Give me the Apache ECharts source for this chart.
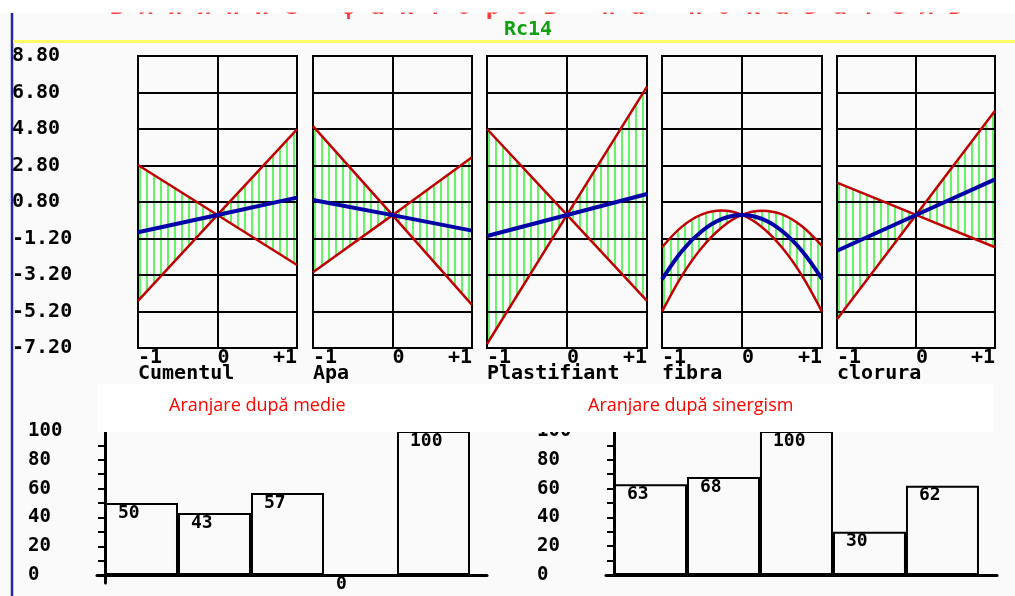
<!DOCTYPE html>
<html><head><meta charset="utf-8">
<script src="https://cdn.jsdelivr.net/npm/echarts@6/dist/echarts.min.js"></script>
<style>html,body{margin:0;padding:0;background:#fafafa}#c{width:1015px;height:596px}</style>
</head><body><div id="c"></div>
<script>
// ---------- data ----------
const chartTitle = 'Rc14';
const headerText = 'В л и я н и е   ф а к т о р о в   н а   п о к а з а т е л ь';
const panelNames = ['Cumentul', 'Apa', 'Plastifiant', 'fibra', 'clorura'];
const yTickLabels = ['-7.20', '-5.20', '-3.20', '-1.20', '0.80', '2.80', '4.80', '6.80', '8.80'];
const xTickLabels = ['-1', '0', '+1'];

const xLinear = [-1, 0, 1];
const xFibra = [-1, -0.75, -0.5, -0.25, 0, 0.25, 0.5, 0.75, 1];

const cumentulRedA = [2.83, 0.09, -2.65];
const cumentulRedB = [-4.62, 0.09, 4.78];
const cumentulBlue = [-0.86, 0.09, 1.04];

const apaRedA = [4.96, 0.08, -4.84];
const apaRedB = [-3.05, 0.08, 3.25];
const apaBlue = [0.91, 0.08, -0.77];

const plastRedA = [4.80, 0.09, -4.62];
const plastRedB = [-6.98, 0.09, 7.12];
const plastBlue = [-1.06, 0.09, 1.24];

const fibraRedA = [-5.21, -3.23, -1.69, -0.58, 0.09, 0.32, 0.12, -0.53, -1.61];
const fibraRedB = [-1.68, -0.55, 0.12, 0.33, 0.09, -0.58, -1.69, -3.23, -5.21];
const fibraBlue = [-3.44, -1.88, -0.79, -0.13, 0.09, -0.13, -0.79, -1.88, -3.41];

const cloruraRedA = [1.86, 0.09, -1.68];
const cloruraRedB = [-5.63, 0.09, 5.80];
const cloruraBlue = [-1.87, 0.09, 2.04];

const barTitles = ['Aranjare după medie', 'Aranjare după sinergism'];
const barMedie = [50, 43, 57, 0, 100];
const barSinergism = [63, 68, 100, 30, 62];
const barTickValues = [0, 10, 20, 30, 40, 50, 60, 70, 80, 90, 100];
const barLabelValues = [0, 20, 40, 60, 80, 100];

// ---------- layout / style ----------
const MONO = 'DejaVu Sans Mono';
const RED = '#c00000', BLUE = '#0000a8', GREEN = '#66f466';
const panels = [
  {x: xLinear, a: cumentulRedA, b: cumentulRedB, m: cumentulBlue},
  {x: xLinear, a: apaRedA, b: apaRedB, m: apaBlue},
  {x: xLinear, a: plastRedA, b: plastRedB, m: plastBlue},
  {x: xFibra, a: fibraRedA, b: fibraRedB, m: fibraBlue, smooth: true},
  {x: xLinear, a: cloruraRedA, b: cloruraRedB, m: cloruraBlue}
];
const panelLefts = [138, 313, 487, 662, 837];
const panelWidths = [159, 159, 160, 160, 158];

function makeHatch() {
  const c = document.createElement('canvas');
  c.width = 7; c.height = 4;
  const ctx = c.getContext('2d');
  ctx.fillStyle = GREEN;
  ctx.fillRect(0, 0, 2, 4);
  return c;
}
const hatchCanvas = makeHatch();

const monoLabel = (size) => ({color: '#000', fontFamily: MONO, fontWeight: 'bold', fontSize: size});

const grid = [], xAxis = [], yAxis = [], series = [], title = [];

panels.forEach((p, i) => {
  grid.push({left: panelLefts[i], width: panelWidths[i], top: 56, height: 292,
    show: true, borderColor: '#000', borderWidth: 2, backgroundColor: 'transparent'});
  xAxis.push({gridIndex: i, type: 'value', min: -1, max: 1, interval: 1,
    axisLine: {show: false}, axisTick: {show: false},
    splitLine: {show: true, lineStyle: {color: '#000', width: 2}},
    axisLabel: Object.assign(monoLabel(20), {margin: 0, align: 'left', alignMaxLabel: 'right',
      formatter: v => xTickLabels[Math.round(v) + 1]})});
  yAxis.push({gridIndex: i, type: 'value', min: -7.2, max: 8.8, interval: 2,
    offset: i === 0 ? 16 : 0,
    axisLine: {show: i === 0, lineStyle: {color: '#000', width: 2}},
    axisTick: {show: i === 0, length: 9, lineStyle: {color: '#000', width: 2}},
    splitLine: {show: true, lineStyle: {color: '#000', width: 2}},
    axisLabel: Object.assign(monoLabel(20), {show: i === 0, margin: 110, align: 'left',
      formatter: v => yTickLabels[Math.round((v + 7.2) / 2)]})});
  const pat = {image: hatchCanvas, repeat: 'repeat', x: panelLefts[i] + 1, y: 0};
  series.push({type: 'custom', xAxisIndex: i, yAxisIndex: i, z: -1, silent: true,
    data: [[0, 0]],
    renderItem: (params, api) => {
      if (params.dataIndex !== 0) return null;
      const pts = [];
      p.x.forEach((x, k) => pts.push(api.coord([x, p.a[k]])));
      for (let k = p.x.length - 1; k >= 0; k--) pts.push(api.coord([p.x[k], p.b[k]]));
      return {type: 'polygon', shape: {points: pts}, style: {fill: pat, stroke: null}};
    }});
  const line = (vals, color, width, z) => ({type: 'line', xAxisIndex: i, yAxisIndex: i,
    data: p.x.map((x, k) => [x, vals[k]]), symbol: 'none', smooth: p.smooth ? 0.35 : false,
    lineStyle: {color, width}, z, silent: true});
  series.push(line(p.a, RED, 2.5, 3));
  series.push(line(p.b, RED, 2.5, 3));
  series.push(line(p.m, BLUE, 4, 4));
  title.push({text: panelNames[i], left: panelLefts[i], top: 364, padding: 0,
    textStyle: monoLabel(20)});
});

// ---------- bar charts ----------
const bars = [
  {vals: barMedie, left: 97, width: 390, height: 152, ymin: -5.5, xmax: 5.233},
  {vals: barSinergism, left: 606, width: 391, height: 144, ymin: 0, xmax: 5.247}
];
bars.forEach((b, j) => {
  const gi = 5 + j;
  grid.push({left: b.left, top: 431, width: b.width, height: b.height});
  xAxis.push({gridIndex: gi, type: 'value', min: -0.1096, max: b.xmax,
    axisLine: {show: true, onZero: true, lineStyle: {color: '#000', width: 3}},
    axisTick: {show: false}, axisLabel: {show: false}, splitLine: {show: false}});
  yAxis.push({gridIndex: gi, type: 'value', min: b.ymin, max: 100,
    axisLine: {show: true, onZero: true, lineStyle: {color: '#000', width: 3}},
    axisTick: {show: true, customValues: barTickValues, length: 7, lineStyle: {color: '#000', width: 2}},
    splitLine: {show: false},
    axisLabel: Object.assign(monoLabel(19), {customValues: barLabelValues, margin: 69, align: 'left'})});
  series.push({type: 'bar', xAxisIndex: gi, yAxisIndex: gi, barWidth: 73,
    data: b.vals.map((v, k) => [k + 0.5, v]),
    itemStyle: {color: 'rgba(0,0,0,0)', borderColor: '#000', borderWidth: 2},
    label: Object.assign(monoLabel(18), {show: true, position: [13, 1], formatter: p => p.value[1]}),
    silent: true});
});

title.push({text: headerText, left: 110, top: -4, padding: 0, z: 1,
  textStyle: {color: '#ff3a3a', fontFamily: MONO, fontWeight: 'bold', fontSize: 24}});
title.push({text: chartTitle, left: 504, top: 20, padding: 0,
  textStyle: {color: '#10a010', fontFamily: MONO, fontWeight: 'bold', fontSize: 20}});
title.push({text: barTitles[0], left: 169, top: 397, padding: 0, z: 60,
  textStyle: {color: '#ff0000', fontFamily: 'Open Sans', fontWeight: 'normal', fontSize: 18}});
title.push({text: barTitles[1], left: 588, top: 397, padding: 0, z: 60,
  textStyle: {color: '#ff0000', fontFamily: 'Open Sans', fontWeight: 'normal', fontSize: 18}});

const chart = echarts.init(document.getElementById('c'), null, {renderer: 'canvas'});
chart.setOption({
  backgroundColor: '#fafafa',
  animation: false,
  title, grid, xAxis, yAxis, series,
  graphic: [
    {type: 'rect', shape: {x: 0, y: 0, width: 1015, height: 12.5}, style: {fill: '#ffffff'}, z: 100, silent: true},
    {type: 'line', shape: {x1: 12, y1: 13, x2: 12, y2: 596}, style: {stroke: '#2424a8', lineWidth: 2.5}, z: 100, silent: true},
    {type: 'line', shape: {x1: 13, y1: 41.5, x2: 1015, y2: 41.5}, style: {stroke: '#ffff66', lineWidth: 3}, z: 100, silent: true},
    {type: 'rect', shape: {x: 97, y: 384, width: 896, height: 48}, style: {fill: '#ffffff'}, z: 55, silent: true}
  ]
});
</script></body></html>
